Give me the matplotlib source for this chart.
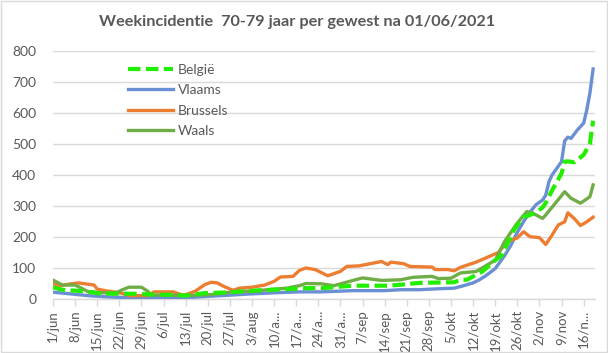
import matplotlib
matplotlib.use("Agg")
import matplotlib.pyplot as plt
from matplotlib.patches import Rectangle

# ---- data (days since 1 June) ----
tick_labels = ['1/jun', '8/jun', '15/jun', '22/jun', '29/jun', '6/jul', '13/jul', '20/jul',
               '27/jul', '3/aug', '10/a...', '17/a...', '24/a...', '31/a...', '7/sep', '14/sep',
               '21/sep', '28/sep', '5/okt', '12/okt', '19/okt', '26/okt', '2/nov', '9/nov', '16/n...']
tick_days = [7 * i for i in range(len(tick_labels))]

belgie_days = [0, 2, 4, 7, 10, 15, 20, 25, 30, 38, 42, 48, 55, 65, 75, 80, 85, 95, 106, 110, 116,
               127, 129, 131, 136, 140, 142, 146, 149, 151, 153, 155, 156, 158, 161, 162, 163, 165,
               168, 170, 171]
belgie_vals = [38, 32, 28, 27, 25, 18, 17, 17, 15, 13, 11, 19, 21, 28, 32, 35, 35, 43, 43, 46, 52,
               54, 62, 62, 89, 125, 140, 224, 265, 271, 280, 295, 310, 350, 405, 443, 444, 441,
               465, 502, 575]

vlaams_days = [0, 3, 7, 12, 17, 22, 30, 40, 45, 50, 57, 62, 70, 78, 85, 95, 105, 110, 116, 122, 127,
               129, 131, 133, 135, 137, 140, 141, 143, 145, 147, 149, 151, 153, 155, 156, 157, 158,
               161, 162, 163, 164, 166, 168, 169, 170, 171]
vlaams_vals = [22, 19, 15, 10, 7, 5, 5, 5, 6, 9, 13, 16, 20, 23, 23, 27, 27, 30, 30, 33, 35,
               40, 46, 52, 62, 75, 98, 112, 140, 174, 215, 250, 280, 305, 319, 335, 378, 400,
               443, 510, 522, 518, 545, 567, 610, 665, 742]

brussels_days = [0, 2, 5, 8, 13, 14, 17, 20, 22, 24, 30, 32, 38, 41, 42, 45, 48, 50, 52, 54, 57, 59,
                 63, 67, 70, 72, 76, 78, 80, 83, 85, 87, 91, 93, 97, 104, 106, 107, 111, 113, 120,
                 121, 125, 127, 129, 134, 141, 144, 147, 149, 151, 154, 156, 158, 160, 162, 163,
                 165, 167, 169, 171]
brussels_vals = [50, 42, 48, 52, 45, 32, 26, 22, 18, 11, 11, 23, 23, 13, 14, 25, 46, 54, 52, 41, 28, 35,
                 38, 45, 57, 71, 73, 92, 100, 95, 85, 75, 89, 105, 107, 121, 111, 119, 114, 105, 103,
                 95, 95, 91, 102, 119, 150, 186, 197, 217, 201, 198, 176, 206, 239, 249, 278,
                 260, 237, 249, 264]

waals_days = [0, 3, 7, 9, 11, 15, 20, 22, 24, 28, 30, 31, 38, 42, 50, 56, 58, 63, 68, 74, 78, 80, 85,
              89, 95, 98, 104, 110, 114, 120, 122, 126, 129, 134, 140, 143, 147, 150, 152, 155, 156,
              162, 164, 167, 170, 171]
waals_vals = [61, 45, 45, 35, 24, 20, 20, 30, 38, 38, 25, 13, 12, 11, 14, 22, 25, 25, 30, 35, 43, 50, 49,
              43, 60, 68, 60, 62, 70, 73, 66, 67, 84, 89, 125, 186, 245, 282, 276, 260, 271,
              346, 325, 309, 330, 368]

yticks = [0, 100, 200, 300, 400, 500, 600, 700, 800]

# ---- styling ----
plt.rcParams['font.family'] = ['Lato', 'DejaVu Sans']
txt = '#595959'
grid = '#d9d9d9'

fig = plt.figure(figsize=(6.08, 3.53), dpi=100)
ax = fig.add_axes([53 / 608, 1 - 299 / 353, 542 / 608, 248 / 353])

ax.plot(vlaams_days, vlaams_vals, color='#6a8fd2', lw=2.4, label='Vlaams', zorder=3)
ax.plot(brussels_days, brussels_vals, color='#ed7d31', lw=2.4, label='Brussels', zorder=3)
ax.plot(waals_days, waals_vals, color='#70ad47', lw=2.4, label='Waals', zorder=3)
ax.plot(belgie_days, belgie_vals, color='#22ee00', lw=3, ls=(0, (3, 1.3)), label='België', zorder=4)

ax.set_xlim(0, 171.6)
ax.set_ylim(0, 800)
ax.set_yticks(yticks)
ax.set_xticks(tick_days)
ax.set_xticklabels(tick_labels, rotation=90, fontsize=9.5, color=txt)
ax.tick_params(axis='y', length=0, labelsize=10, labelcolor=txt, pad=12)
ax.tick_params(axis='x', length=5, color=grid, width=1, pad=3)
ax.grid(axis='y', color=grid, lw=1)
ax.set_axisbelow(True)
for s in ['top', 'right', 'left']:
    ax.spines[s].set_visible(False)
ax.spines['bottom'].set_color(grid)
ax.spines['bottom'].set_linewidth(1)

handles, labels = ax.get_legend_handles_labels()
order = [3, 0, 1, 2]
leg = ax.legend([handles[i] for i in order], [labels[i] for i in order],
                loc='upper left', bbox_to_anchor=(62 / 542, 1.0), frameon=False,
                fontsize=10, handlelength=3.3, handletextpad=0.35, labelspacing=0.62,
                labelcolor=txt)

fig.text(0.489, 1 - 22 / 353, 'Weekincidentie  70-79 jaar per gewest na 01/06/2021',
         ha='center', va='center', fontsize=11.7, fontweight='bold', color=txt)

fig.patches.append(Rectangle((0.001, 0.002), 0.997, 0.995, transform=fig.transFigure,
                             fill=False, edgecolor=grid, lw=1))

fig.savefig('out.png', dpi=100)
